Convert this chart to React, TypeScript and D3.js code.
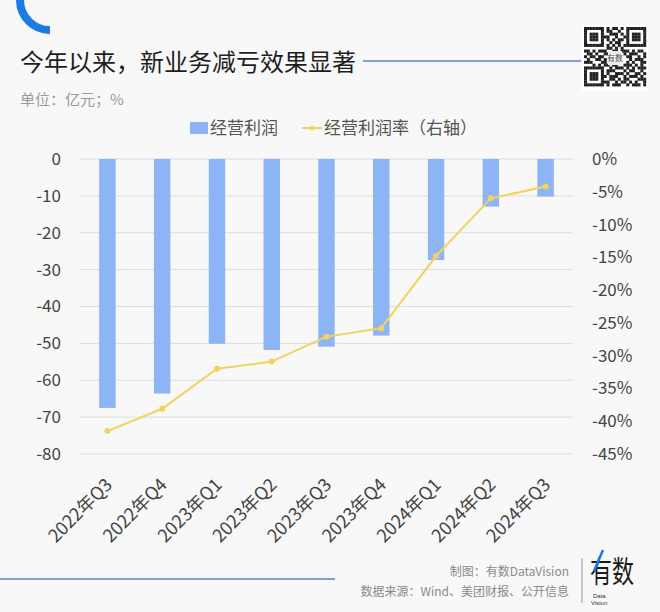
import React from 'react';
import * as d3 from 'd3';

const categories: string[] = [
  '2022年Q3', '2022年Q4', '2023年Q1', '2023年Q2', '2023年Q3',
  '2023年Q4', '2024年Q1', '2024年Q2', '2024年Q3',
];
// 经营利润（亿元）
const profit: number[] = [-67.5, -63.6, -50.1, -51.8, -50.9, -47.9, -27.4, -12.9, -10.2];
// 经营利润率（%，右轴）
const margin: number[] = [-41.5, -38.1, -32.0, -30.9, -27.1, -25.8, -14.8, -6.0, -4.2];

const leftTicks: number[] = [0, -10, -20, -30, -40, -50, -60, -70, -80];
const rightTicks: number[] = [0, -5, -10, -15, -20, -25, -30, -35, -40, -45];

// 装饰用二维码图案（固定）
const qrRows: string[] = [
  '1111111010110101111111',
  '1000001011001001000001',
  '1011101001110101011101',
  '1011101110010011011101',
  '1011101010101101011101',
  '1000001001011001000001',
  '1111111010101011111111',
  '0000000011010100000000',
  '1101011100110111010110',
  '0110100111001010111001',
  '1011011000000001100101',
  '0100110100000000101110',
  '1110001100000001010011',
  '0001010110110011101010',
  '1111111001011101010111',
  '1000001011100010110010',
  '1011101010011101001101',
  '1011101101110010111010',
  '1011101001101011000111',
  '1000001110010110101001',
  '1111111010111001011101',
];

const W = 660;
const H = 612;
const BAR = '#8db4f4';
const LINE = '#f1d35e';
const FONT = '"Noto Sans CJK SC", "Noto Sans", sans-serif';

const App: React.FC = () => {
  const x = d3.scaleBand<string>()
    .domain(categories)
    .range([80, 573])
    .paddingInner(0.7)
    .paddingOuter(0.35);

  const yLeft = d3.scaleLinear().domain([-80, 0]).range([454, 159]);
  const yRight = d3.scaleLinear().domain([-45, 0]).range([454, 159]);

  const cx = (c: string) => (x(c) as number) + x.bandwidth() / 2;

  const line = d3.line<number>()
    .x((_, i) => cx(categories[i]))
    .y(d => yRight(d));

  const qrCell = 62 / 22;

  return (
    <svg width={W} height={H} style={{ position: 'absolute', left: 0, top: 0, background: '#f8f8f8' }} fontFamily={FONT}>
      <rect width={W} height={H} fill="#f8f8f8" />

      {/* 左上角弧形装饰 */}
      <path d="M 20 0 A 30 30 0 0 0 50 30" fill="none" stroke="#1a7ae6" strokeWidth={8} />

      {/* 标题 */}
      <text x={20} y={71} fontSize={24} fill="#1e1e1e">今年以来，新业务减亏效果显著</text>
      <line x1={363} x2={581} y1={61} y2={61} stroke="#4f86c6" strokeWidth={1.5} />

      {/* 二维码 */}
      <rect x={582} y={25} width={66} height={66} fill="#ffffff" />
      <g transform="translate(584,27)">
        {qrRows.map((row, r) =>
          row.split('').map((b, c) =>
            b === '1' ? (
              <rect key={`${r}-${c}`} x={c * qrCell} y={r * qrCell} width={qrCell + 0.2} height={qrCell + 0.2} fill="#222" />
            ) : null
          )
        )}
        <rect x={24} y={24} width={14} height={14} fill="#eee" />
        <text x={31} y={34} fontSize={8} textAnchor="middle" fill="#555">有数</text>
      </g>

      <text x={20} y={105} fontSize={15} fill="#9a9a9a">单位：亿元；%</text>

      {/* 图例 */}
      <rect x={190} y={122} width={18} height={12} fill={BAR} />
      <text x={210} y={134} fontSize={17} fill="#555">经营利润</text>
      <line x1={302} x2={322} y1={128} y2={128} stroke={LINE} strokeWidth={2} />
      <circle cx={312} cy={128} r={2.5} fill={LINE} />
      <text x={324} y={134} fontSize={17} fill="#555">经营利润率（右轴）</text>

      {/* 网格线 */}
      {leftTicks.map(t => (
        <line key={t} x1={80} x2={573} y1={yLeft(t)} y2={yLeft(t)} stroke="#dcdcdc" strokeWidth={1} />
      ))}

      {/* 左轴 */}
      {leftTicks.map(t => (
        <text key={t} x={61} y={yLeft(t)} dy="0.35em" textAnchor="end" fontSize={17} fill="#444">{t}</text>
      ))}

      {/* 右轴 */}
      {rightTicks.map(t => (
        <text key={t} x={592} y={yRight(t)} dy="0.35em" fontSize={17} fill="#444">{`${t}%`}</text>
      ))}

      {/* 柱 */}
      {profit.map((v, i) => (
        <rect
          key={categories[i]}
          x={x(categories[i])}
          y={yLeft(0)}
          width={x.bandwidth()}
          height={yLeft(v) - yLeft(0)}
          fill={BAR}
        />
      ))}

      {/* 折线 */}
      <path d={line(margin) ?? ''} fill="none" stroke={LINE} strokeWidth={2} />
      {margin.map((v, i) => (
        <circle key={categories[i]} cx={cx(categories[i])} cy={yRight(v)} r={3} fill={LINE} />
      ))}

      {/* 横轴标签 */}
      {categories.map(c => (
        <text
          key={c}
          transform={`translate(${cx(c) + 6},${486}) rotate(-45)`}
          textAnchor="end"
          fontSize={18}
          fill="#444"
        >
          {c}
        </text>
      ))}

      {/* 页脚 */}
      <line x1={0} x2={335} y1={579} y2={579} stroke="#4f86c6" strokeWidth={1.5} />
      <text x={569} y={576} textAnchor="end" fontSize={12} fill="#8a8a8a">制图：有数DataVision</text>
      <text x={569} y={596} textAnchor="end" fontSize={12} fill="#8a8a8a">数据来源：Wind、美团财报、公开信息</text>
      <line x1={582} x2={582} y1={558} y2={603} stroke="#999" strokeWidth={1} />
      <text x={590} y={582} fontSize={30} fill="#1a1a1a" textLength={44} lengthAdjust="spacingAndGlyphs">有数</text>
      <line x1={594} x2={603} y1={571} y2={550} stroke="#1a7ae6" strokeWidth={2.5} />
      <text x={593} y={598} fontSize={6} fill="#333" fontFamily="Liberation Sans, sans-serif">Data</text>
      <text x={591} y={605} fontSize={6} fill="#333" fontFamily="Liberation Sans, sans-serif">Vision</text>
    </svg>
  );
};

export default App;
